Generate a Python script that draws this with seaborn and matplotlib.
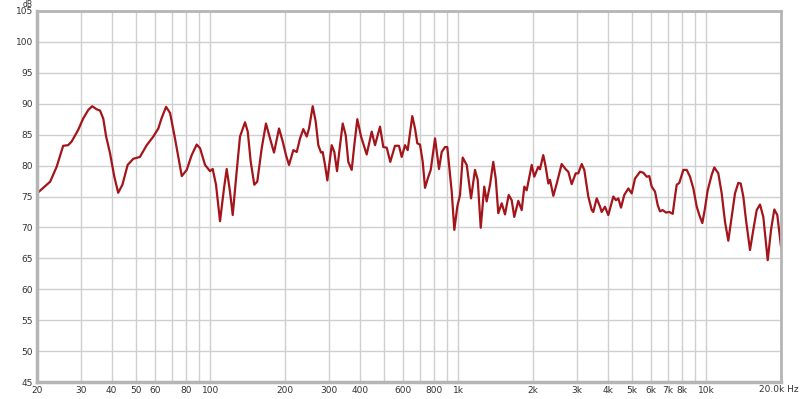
import matplotlib
matplotlib.use("Agg")
import matplotlib.pyplot as plt
import seaborn as sns
import pandas as pd

freq_hz = [20, 22.6, 24.0, 25.5, 26.7, 27.6, 29.3, 30.7, 32.2, 33.4, 34.8, 35.9, 37.0, 38.0, 39.4,
           41.0, 42.5, 44.2, 46.4, 48.9, 52.0, 55.4, 58.9, 61.7, 63.5, 66.3, 68.8, 72.0, 76.7,
           80.3, 84.1, 88.1, 90.9, 95.2, 99.7, 102.2, 105.4, 109.4, 113.5, 116.4, 120.0, 123.1,
           126.9, 131.7, 138.0, 141.5, 145.5, 150.4, 154.6, 161.1, 167.6, 174.0, 180.6, 189.2,
           195.8, 201.8, 207.6, 216.1, 223.0, 230.0, 237.1, 244.7, 250.0, 258.7, 266.0, 272.5,
           279.5, 283.8, 290.0, 296.3, 308.6, 316.1, 324.2, 333.4, 341.8, 351.5, 360.0, 371.5,
           380.6, 391.4, 405.2, 427.0, 447.4, 461.3, 483.3, 498.2, 514.2, 531.6, 555.2, 576.4,
           591.0, 609.4, 624.9, 652.0, 668.8, 683.2, 700.6, 718.4, 734, 756.8, 773.8, 805.4,
           835.6, 857.0, 883.6, 902.4, 940.2, 963.4, 990.6, 1015.6, 1041, 1081, 1125, 1167,
           1197, 1231, 1272, 1301, 1342, 1383, 1415, 1449, 1496, 1542, 1596, 1641, 1681, 1745,
           1801, 1845, 1886, 1976, 2024, 2100, 2134, 2200, 2250, 2306, 2342, 2416, 2493, 2610,
           2710, 2776, 2864, 2974, 3046, 3144, 3220, 3342, 3450, 3500, 3614, 3726, 3784, 3902,
           4024, 4216, 4322, 4416, 4528, 4668, 4846, 5000, 5156, 5402, 5570, 5748, 5888, 6020,
           6208, 6366, 6504, 6668, 6876, 7090, 7318, 7476, 7594, 7780, 8076, 8336, 8594, 8862,
           9146, 9368, 9634, 9876, 10126, 10510, 10766, 11174, 11532, 11892, 12262, 12656,
           13048, 13454, 13758, 14094, 14452, 14998, 15464, 15960, 16458, 16970, 17680, 18230,
           18796, 19326, 20000]

level_db = [75.5, 77.4, 79.8, 83.2, 83.3, 83.9, 85.75, 87.6, 89.0, 89.6, 89.1, 88.9, 87.6, 84.7, 82.0,
            78.2, 75.6, 76.9, 80.1, 81.1, 81.4, 83.3, 84.7, 86.0, 87.6, 89.5, 88.5, 84.4, 78.3,
            79.3, 81.7, 83.4, 82.8, 80.1, 79.1, 79.45, 76.9, 71.0, 76.3, 79.45, 75.8, 72.0,
            77.9, 84.7, 87.0, 85.5, 80.6, 76.9, 77.4, 82.8, 86.8, 84.4, 82.1, 86.0,
            83.9, 81.7, 80.1, 82.5, 82.2, 84.4, 85.9, 84.7, 86.0, 89.6, 87.1, 83.3,
            82.1, 82.2, 80.1, 77.6, 83.3, 82.2, 79.1, 83.3, 86.8, 84.9, 80.6, 79.3,
            83.3, 87.5, 84.7, 81.8, 85.5, 83.3, 86.3, 83.0, 82.9, 80.6, 83.2, 83.2,
            81.4, 83.3, 82.5, 88.0, 86.0, 83.6, 83.4, 80.6, 76.4, 78.2, 79.3, 84.4,
            79.45, 82.2, 83.0, 83.0, 75.8, 69.6, 73.4, 75.25, 81.3, 80.1, 74.7, 79.3,
            77.7, 69.95, 76.6, 74.2, 76.9, 80.6, 77.9, 72.3, 73.9, 72.1, 75.25, 74.4, 71.7, 74.3,
            72.8, 76.6, 76.0, 80.1, 78.2, 79.8, 79.4, 81.7, 79.8, 77.1, 77.7, 75.1, 77.1, 80.25,
            79.4, 79.0, 77.0, 78.75, 78.75, 80.25, 79.3, 75.0, 72.8, 72.5, 74.7, 73.35, 72.5, 73.35,
            72.0, 75.0, 74.4, 74.7, 73.2, 75.25, 76.3, 75.5, 77.9, 79.0, 78.85, 78.2, 78.3, 76.6,
            75.8, 73.6, 72.6, 72.8, 72.4, 72.5, 72.2, 75.0, 76.9, 77.2, 79.3, 79.3, 78.2, 76.3,
            73.35, 72.0, 70.7, 73.1, 76.0, 78.5, 79.7, 78.75, 75.5, 70.9, 67.85, 71.7,
            75.5, 77.2, 77.1, 75.0, 71.2, 66.35, 69.6, 72.8, 73.7, 71.7, 64.7, 69.6,
            72.9, 72.0, 66.9]

y_ticks = [45, 50, 55, 60, 65, 70, 75, 80, 85, 90, 95, 100, 105]
x_grid = [20, 30, 40, 50, 60, 70, 80, 90, 100, 200, 300, 400, 500, 600, 700, 800, 900,
          1000, 2000, 3000, 4000, 5000, 6000, 7000, 8000, 9000, 10000, 20000]
x_labels = ["20", "30", "40", "50", "60", "", "80", "", "100", "200", "300", "400", "", "600",
            "", "800", "", "1k", "2k", "3k", "4k", "5k", "6k", "7k", "8k", "", "10k", ""]

sns.set_style("white")
plt.rcParams["font.family"] = ["DejaVu Sans"]

df = pd.DataFrame({"freq": freq_hz, "db": level_db})

fig = plt.figure(figsize=(8, 3.99), dpi=100)
ax = fig.add_axes([37 / 800, 1 - 382 / 399, (781 - 37) / 800, (382 - 11) / 399])
sns.lineplot(data=df, x="freq", y="db", ax=ax, color="#a3151b", linewidth=1.6,
             estimator=None, sort=False)
ax.set_xscale("log")
ax.set_xlim(20, 20000)
ax.set_ylim(45, 105)
ax.set_xticks(x_grid)
ax.set_xticklabels(x_labels)
ax.minorticks_off()
ax.set_yticks(y_ticks)
ax.set_yticklabels([str(v) for v in y_ticks])
ax.grid(True, color="#cfcfcf", linewidth=1.0)
ax.set_axisbelow(True)
ax.tick_params(length=0, labelsize=6.5, labelcolor="#333333", pad=3)
ax.set_xlabel("")
ax.set_ylabel("")
for s in ax.spines.values():
    s.set_color("#b5b5b5")
    s.set_linewidth(2.0)
ax.spines["left"].set_linewidth(2.5)
ax.spines["bottom"].set_linewidth(2.5)

fig.text(28 / 800, 1 - 4.2 / 399, "dB", fontsize=5.5, color="#333333", ha="center", va="center")
fig.text(759 / 800, 1 - 390 / 399, "20.0k Hz", fontsize=6.5, color="#333333", ha="left", va="center")

fig.savefig("out.png", dpi=100, facecolor="white")
